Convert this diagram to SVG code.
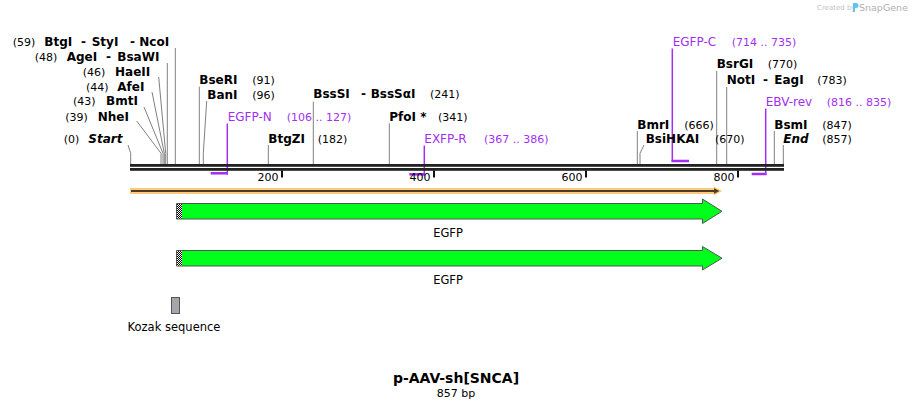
<svg xmlns="http://www.w3.org/2000/svg" width="914" height="408" viewBox="0 0 914 408">
<style>
text{font-family:"DejaVu Sans","Liberation Sans",sans-serif}
.e{font-size:12px;font-weight:bold;fill:#000}
.i{font-size:12px;font-weight:bold;font-style:italic;fill:#000}
.n{font-size:11px;fill:#000}
.pn{font-size:12px;fill:#a12ff0}
.pr{font-size:11px;fill:#a12ff0}
.ld{fill:none;stroke:#808080;stroke-width:1}
.pv{fill:none;stroke:#a12ff0;stroke-width:1.5}
.ph{fill:none;stroke:#a12ff0;stroke-width:2.5}
.bb{fill:#222}
.tk{fill:#111}
.tl{font-size:11px;fill:#000;text-anchor:end}
.fl{font-size:11.5px;fill:#000;text-anchor:middle}
.gr{fill:#00ff1a;stroke:#555;stroke-width:1}
</style>
<defs>
<pattern id="chk" width="2" height="2" patternUnits="userSpaceOnUse">
<rect width="2" height="2" fill="#000"/>
<rect width="1" height="1" fill="#fff"/>
<rect x="1" y="1" width="1" height="1" fill="#fff"/>
</pattern>
</defs>
<rect width="914" height="408" fill="#fff"/>

<g id="watermark">
<text x="817" y="10" style="font-size:7px;fill:#c4c4c4">Created by</text>
<path d="M853 3 h3 a2 2 0 0 1 0 5 h-1 v4 h-2 z" fill="#5fc3f0"/>
<text x="859" y="11" style="font-size:9.5px;fill:#b0b0b0">SnapGene</text>
</g>

<g id="connectors">
<polyline class="ld" points="175.3,48 175.3,164"/>
<polyline class="ld" points="167.3,63 167.3,164"/>
<polyline class="ld" points="158.7,77 165.7,153.3 165.7,164"/>
<polyline class="ld" points="152,92 164.3,153.3 164.3,164"/>
<polyline class="ld" points="144,107 163,153.3 163,164"/>
<polyline class="ld" points="136.7,121 161,153.3 161,164"/>
<polyline class="ld" points="128,145 130.7,153.3 130.7,164"/>
<polyline class="ld" points="199.3,86.7 199.3,164"/>
<polyline class="ld" points="206.7,101 203.3,153.3 203.3,164"/>
<polyline class="ld" points="268.3,145 268.3,164"/>
<polyline class="ld" points="313.3,101.7 313.3,164"/>
<polyline class="ld" points="389.3,123.3 389.3,164"/>
<polyline class="ld" points="637.3,131 637.3,164"/>
<polyline class="ld" points="644,145 640,153.3 640,164"/>
<polyline class="ld" points="716.7,71 716.7,164"/>
<polyline class="ld" points="726.7,87 726.7,164"/>
<polyline class="ld" points="774.3,131 774.3,164"/>
<polyline class="ld" points="783.3,145 783.3,164"/>
<polyline class="pv" points="227.3,123.5 227.3,174.3"/>
<polyline class="ph" points="210.7,173.3 228,173.3"/>
<polyline class="pv" points="424.3,145.5 424.3,175.5"/>
<polyline class="ph" points="409.3,174.3 425,174.3"/>
<polyline class="pv" points="672.3,48.5 672.3,161.5"/>
<polyline class="ph" points="671.5,161 689,161"/>
<polyline class="pv" points="765.7,108.5 765.7,175"/>
<polyline class="ph" points="751.7,174 766.5,174"/>
</g>

<g id="backbone">
<rect class="bb" x="130" y="164" width="654" height="2.8"/>
<rect class="bb" x="130" y="168" width="654" height="2.8"/>
<rect class="tk" x="281" y="170.5" width="2" height="7"/>
<rect class="tk" x="433" y="170.5" width="2" height="7"/>
<rect class="tk" x="585" y="170.5" width="2" height="7"/>
<rect class="tk" x="737" y="170.5" width="2" height="7"/>
<text class="tl" x="278.5" y="181">200</text>
<text class="tl" x="430.5" y="181">400</text>
<text class="tl" x="582.5" y="181">600</text>
<text class="tl" x="734.5" y="181">800</text>
</g>

<g id="site-BtgI-StyI-NcoI">
<text class="n" x="12.7" y="46">(59)</text>
<text class="e" x="44.3" y="46">BtgI</text>
<text class="e" x="81" y="46">-</text>
<text class="e" x="91.7" y="46">StyI</text>
<text class="e" x="130" y="46">-</text>
<text class="e" x="139.3" y="46">NcoI</text>
</g>
<g id="site-AgeI-BsaWI">
<text class="n" x="34.7" y="60.7">(48)</text>
<text class="e" x="66.7" y="60.7">AgeI</text>
<text class="e" x="106" y="60.7">-</text>
<text class="e" x="117.3" y="60.7">BsaWI</text>
</g>
<g id="site-HaeII">
<text class="n" x="82.7" y="75.7">(46)</text>
<text class="e" x="115" y="75.7">HaeII</text>
</g>
<g id="site-AfeI">
<text class="n" x="86" y="90.7">(44)</text>
<text class="e" x="117.3" y="90.7">AfeI</text>
</g>
<g id="site-BmtI">
<text class="n" x="73" y="105.3">(43)</text>
<text class="e" x="106" y="105.3">BmtI</text>
</g>
<g id="site-NheI">
<text class="n" x="65.3" y="120.7">(39)</text>
<text class="e" x="97.7" y="120.7">NheI</text>
</g>
<g id="site-Start">
<text class="n" x="63.7" y="143.3">(0)</text>
<text class="i" x="88.3" y="143.3">Start</text>
</g>
<g id="site-BseRI">
<text class="e" x="199.3" y="84">BseRI</text>
<text class="n" x="252.3" y="84">(91)</text>
</g>
<g id="site-BanI">
<text class="e" x="207.3" y="99">BanI</text>
<text class="n" x="252.3" y="99">(96)</text>
</g>
<g id="site-BssSI">
<text class="e" x="313.3" y="98.3">BssSI</text>
<text class="e" x="361" y="98.3">-</text>
<text class="e" x="370.7" y="98.3">BssSαI</text>
<text class="n" x="430" y="98.3">(241)</text>
</g>
<g id="site-BtgZI">
<text class="e" x="268.3" y="143.3">BtgZI</text>
<text class="n" x="317.7" y="143.3">(182)</text>
</g>
<g id="site-PfoI">
<text class="e" x="389.3" y="121">PfoI *</text>
<text class="n" x="438" y="121">(341)</text>
</g>
<g id="primer-EGFP-N">
<text class="pn" x="227.7" y="121">EGFP-N</text>
<text class="pr" x="286.7" y="121">(106 .. 127)</text>
</g>
<g id="primer-EXFP-R">
<text class="pn" x="424.3" y="143.3">EXFP-R</text>
<text class="pr" x="484" y="143.3">(367 .. 386)</text>
</g>
<g id="primer-EGFP-C">
<text class="pn" x="672.7" y="46">EGFP-C</text>
<text class="pr" x="731.7" y="46">(714 .. 735)</text>
</g>
<g id="site-BsrGI">
<text class="e" x="716.7" y="68.3">BsrGI</text>
<text class="n" x="767.7" y="68.3">(770)</text>
</g>
<g id="site-NotI-EagI">
<text class="e" x="726.7" y="84">NotI</text>
<text class="e" x="763" y="84">-</text>
<text class="e" x="774.3" y="84">EagI</text>
<text class="n" x="817.3" y="84">(783)</text>
</g>
<g id="primer-EBV-rev">
<text class="pn" x="765.7" y="106">EBV-rev</text>
<text class="pr" x="826.7" y="106">(816 .. 835)</text>
</g>
<g id="site-BmrI">
<text class="e" x="637.3" y="129">BmrI</text>
<text class="n" x="684.3" y="129">(666)</text>
</g>
<g id="site-BsiHKAI">
<text class="e" x="645.7" y="143.3">BsiHKAI</text>
<text class="n" x="715" y="143.3">(670)</text>
</g>
<g id="site-BsmI">
<text class="e" x="774.3" y="129">BsmI</text>
<text class="n" x="822.3" y="129">(847)</text>
</g>
<g id="site-End">
<text class="i" x="783.3" y="143.3">End</text>
<text class="n" x="822.3" y="143.3">(857)</text>
</g>

<g id="feature-orange">
<polygon points="130,188 714,188 714,186.5 722,191 714,195.5 714,194 130,194" fill="#fbca7a"/>
<line x1="131" y1="191" x2="715" y2="191" stroke="#4d3a26" stroke-width="2"/>
<polygon points="714,188.3 719.5,191 714,193.7" fill="#4d3a26"/>
</g>

<g id="feature-EGFP-1">
<polygon class="gr" points="176.5,203.5 702.5,203.5 702.5,199 722,211.3 702.5,223.5 702.5,219 176.5,219"/>
<rect x="177" y="204" width="5" height="14.5" fill="url(#chk)"/>
<text class="fl" x="448" y="237">EGFP</text>
</g>
<g id="feature-EGFP-2">
<polygon class="gr" points="176.5,250.5 702.5,250.5 702.5,246.5 722,258.2 702.5,270 702.5,266 176.5,266"/>
<rect x="177" y="251" width="5" height="14.5" fill="url(#chk)"/>
<text class="fl" x="448" y="284">EGFP</text>
</g>
<g id="feature-Kozak">
<rect x="171.5" y="297.5" width="8" height="16" fill="#a2a7ae" stroke="#555" stroke-width="1"/>
<text class="fl" x="174" y="331">Kozak sequence</text>
</g>

<g id="title">
<text x="456" y="383" text-anchor="middle" style="font-size:14px;font-weight:bold">p-AAV-sh[SNCA]</text>
<text x="456" y="397" text-anchor="middle" style="font-size:11px">857 bp</text>
</g>
</svg>
